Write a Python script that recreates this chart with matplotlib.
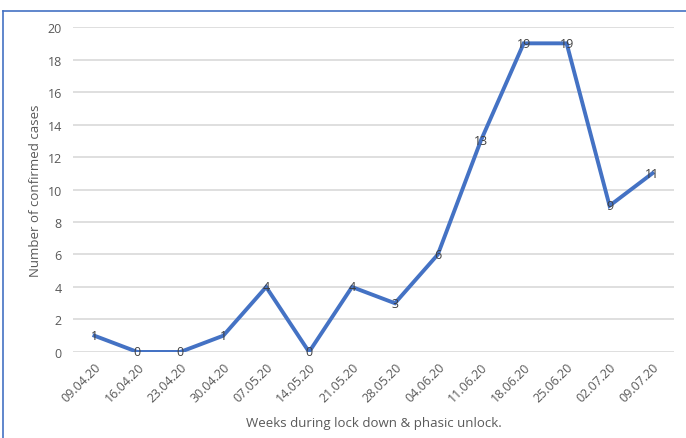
import matplotlib.pyplot as plt
from matplotlib.lines import Line2D

# Data
weeks = ['09.04.20', '16.04.20', '23.04.20', '30.04.20', '07.05.20', '14.05.20', '21.05.20',
         '28.05.20', '04.06.20', '11.06.20', '18.06.20', '25.06.20', '02.07.20', '09.07.20']
cases = [1, 0, 0, 1, 4, 0, 4, 3, 6, 13, 19, 19, 9, 11]

plt.rcParams['font.family'] = ['Open Sans', 'DejaVu Sans']

fig = plt.figure(figsize=(6.86, 4.39), dpi=100)
ax = fig.add_axes([0.1064, 0.196, 0.876, 0.740])

x = range(len(weeks))
ax.plot(x, cases, color='#4472C4', lw=2.8, solid_joinstyle='miter', zorder=3)

# Data labels centred on the points
for i, v in zip(x, cases):
    ax.text(i, v, str(v), ha='center', va='center', fontsize=9, color='#404040', zorder=4)

ax.set_xlim(-0.5, len(weeks) - 0.5)
ax.set_ylim(0, 20)
ax.set_yticks(range(0, 21, 2))
ax.set_xticks(list(x))
ax.set_xticklabels(weeks, rotation=45, ha='right', rotation_mode='anchor', fontsize=9, color='#595959')
ax.tick_params(axis='y', labelsize=9, labelcolor='#595959', length=0, pad=8)
ax.tick_params(axis='x', length=0, pad=6)
ax.grid(axis='y', color='#d9d9d9', lw=1.2)
ax.set_axisbelow(True)
for s in ax.spines.values():
    s.set_visible(False)

ax.set_ylabel('Number of confirmed cases', fontsize=9.5, color='#595959', labelpad=4)
ax.set_xlabel('Weeks during lock down & phasic unlock.', fontsize=9.5, color='#595959', labelpad=8)

# Blue frame on top and left
fig.add_artist(Line2D([0.004, 1], [1 - 12 / 439, 1 - 12 / 439], transform=fig.transFigure, color='#4472C4', lw=1.2))
fig.add_artist(Line2D([0.004, 0.004], [0, 1 - 12 / 439], transform=fig.transFigure, color='#4472C4', lw=1.2))

plt.savefig('out.png', dpi=100)
